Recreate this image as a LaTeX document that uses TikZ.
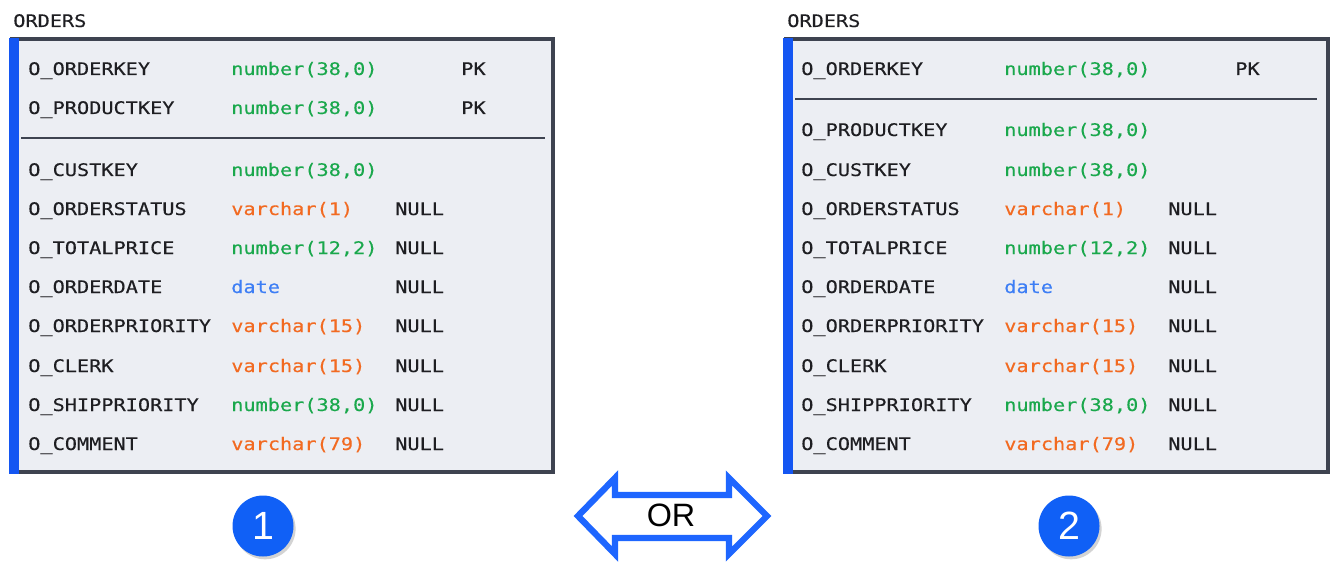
\documentclass[tikz,border=0pt]{standalone}
\usepackage{fontspec}
\newfontfamily\codefont[FakeStretch=1.17,FakeBold=0.3]{DejaVu Sans Mono}
\newfontfamily\labelfont{Liberation Sans}
\usetikzlibrary{shadows}

\definecolor{tblfill}{HTML}{ECEEF3}
\definecolor{tblframe}{HTML}{3E4350}
\definecolor{keybar}{HTML}{1456F2}
\definecolor{numgreen}{HTML}{1AA84C}
\definecolor{varorange}{HTML}{F26A21}
\definecolor{dateblue}{HTML}{3D7EF5}
\definecolor{badgeblue}{HTML}{1060F6}
\definecolor{arrowblue}{HTML}{1E66FF}
\definecolor{coltext}{HTML}{1E1E22}

\tikzset{
  col/.style={anchor=base west, inner sep=0pt, text=coltext, font=\codefont\fontsize{12.3}{14}\selectfont},
  numtype/.style={col, text=numgreen},
  vartype/.style={col, text=varorange},
  datetype/.style={col, text=dateblue},
  tblbox/.style={fill=tblfill, draw=tblframe, line width=2.2pt},
  badge/.style={circle, fill=badgeblue, minimum size=61\pxu, inner sep=0pt, text=white,
    font=\labelfont\fontsize{28}{30}\selectfont,
    drop shadow={opacity=0.35, shadow xshift=1.5pt, shadow yshift=-2pt}}
}
\newlength{\pxu}
\setlength{\pxu}{0.025cm}

\begin{document}
\begin{tikzpicture}[x=0.025cm, y=-0.025cm]
\useasboundingbox (0,0) rectangle (1334,571);

% Table 1
\node[col] (t1title) at (13,27) {ORDERS};
\draw[tblbox] (12,39) rectangle (553,472);
\fill[keybar] (9,38) rectangle (19,474);
\draw[tblframe, line width=1pt] (21,138) -- (545,138);

\node[col] (a1) at (28,75) {O\_ORDERKEY};
\node[numtype] (a1t) at (231,75) {number(38,0)};
\node[col] (a1k) at (461,75) {PK};
\node[col] (a2) at (28,114) {O\_PRODUCTKEY};
\node[numtype] (a2t) at (231,114) {number(38,0)};
\node[col] (a2k) at (461,114) {PK};
\node[col] (a3) at (28,176) {O\_CUSTKEY};
\node[numtype] (a3t) at (231,176) {number(38,0)};
\node[col] (a4) at (28,215) {O\_ORDERSTATUS};
\node[vartype] (a4t) at (231,215) {varchar(1)};
\node[col] (a4n) at (395,215) {NULL};
\node[col] (a5) at (28,254) {O\_TOTALPRICE};
\node[numtype] (a5t) at (231,254) {number(12,2)};
\node[col] (a5n) at (395,254) {NULL};
\node[col] (a6) at (28,293) {O\_ORDERDATE};
\node[datetype] (a6t) at (231,293) {date};
\node[col] (a6n) at (395,293) {NULL};
\node[col] (a7) at (28,332) {O\_ORDERPRIORITY};
\node[vartype] (a7t) at (231,332) {varchar(15)};
\node[col] (a7n) at (395,332) {NULL};
\node[col] (a8) at (28,372) {O\_CLERK};
\node[vartype] (a8t) at (231,372) {varchar(15)};
\node[col] (a8n) at (395,372) {NULL};
\node[col] (a9) at (28,411) {O\_SHIPPRIORITY};
\node[numtype] (a9t) at (231,411) {number(38,0)};
\node[col] (a9n) at (395,411) {NULL};
\node[col] (a10) at (28,450) {O\_COMMENT};
\node[vartype] (a10t) at (231,450) {varchar(79)};
\node[col] (a10n) at (395,450) {NULL};

% Table 2
\node[col] (t2title) at (787,27) {ORDERS};
\draw[tblbox] (786,39) rectangle (1328,472);
\fill[keybar] (783,38) rectangle (793,474);
\draw[tblframe, line width=1pt] (795,99) -- (1317,99);

\node[col] (b1) at (801,75) {O\_ORDERKEY};
\node[numtype] (b1t) at (1004,75) {number(38,0)};
\node[col] (b1k) at (1235,75) {PK};
\node[col] (b2) at (801,136) {O\_PRODUCTKEY};
\node[numtype] (b2t) at (1004,136) {number(38,0)};
\node[col] (b3) at (801,176) {O\_CUSTKEY};
\node[numtype] (b3t) at (1004,176) {number(38,0)};
\node[col] (b4) at (801,215) {O\_ORDERSTATUS};
\node[vartype] (b4t) at (1004,215) {varchar(1)};
\node[col] (b4n) at (1168,215) {NULL};
\node[col] (b5) at (801,254) {O\_TOTALPRICE};
\node[numtype] (b5t) at (1004,254) {number(12,2)};
\node[col] (b5n) at (1168,254) {NULL};
\node[col] (b6) at (801,293) {O\_ORDERDATE};
\node[datetype] (b6t) at (1004,293) {date};
\node[col] (b6n) at (1168,293) {NULL};
\node[col] (b7) at (801,332) {O\_ORDERPRIORITY};
\node[vartype] (b7t) at (1004,332) {varchar(15)};
\node[col] (b7n) at (1168,332) {NULL};
\node[col] (b8) at (801,372) {O\_CLERK};
\node[vartype] (b8t) at (1004,372) {varchar(15)};
\node[col] (b8n) at (1168,372) {NULL};
\node[col] (b9) at (801,411) {O\_SHIPPRIORITY};
\node[numtype] (b9t) at (1004,411) {number(38,0)};
\node[col] (b9n) at (1168,411) {NULL};
\node[col] (b10) at (801,450) {O\_COMMENT};
\node[vartype] (b10t) at (1004,450) {varchar(79)};
\node[col] (b10n) at (1168,450) {NULL};

% OR arrow
\draw[arrowblue, line width=4.5pt, fill=white, line join=miter,
  drop shadow={opacity=0.3, shadow xshift=1pt, shadow yshift=-1.5pt}]
  (578,516) -- (615,478) -- (615,495) -- (729,495) -- (729,478)
  -- (767,516) -- (729,554) -- (729,538) -- (615,538) -- (615,554) -- cycle;
\node[inner sep=0pt, font=\labelfont\fontsize{23}{25}\selectfont] (ortext) at (671,515) {OR};

% badges
\node[badge] (one) at (263,526) {1};
\node[badge] (two) at (1069,526) {2};
\end{tikzpicture}
\end{document}
